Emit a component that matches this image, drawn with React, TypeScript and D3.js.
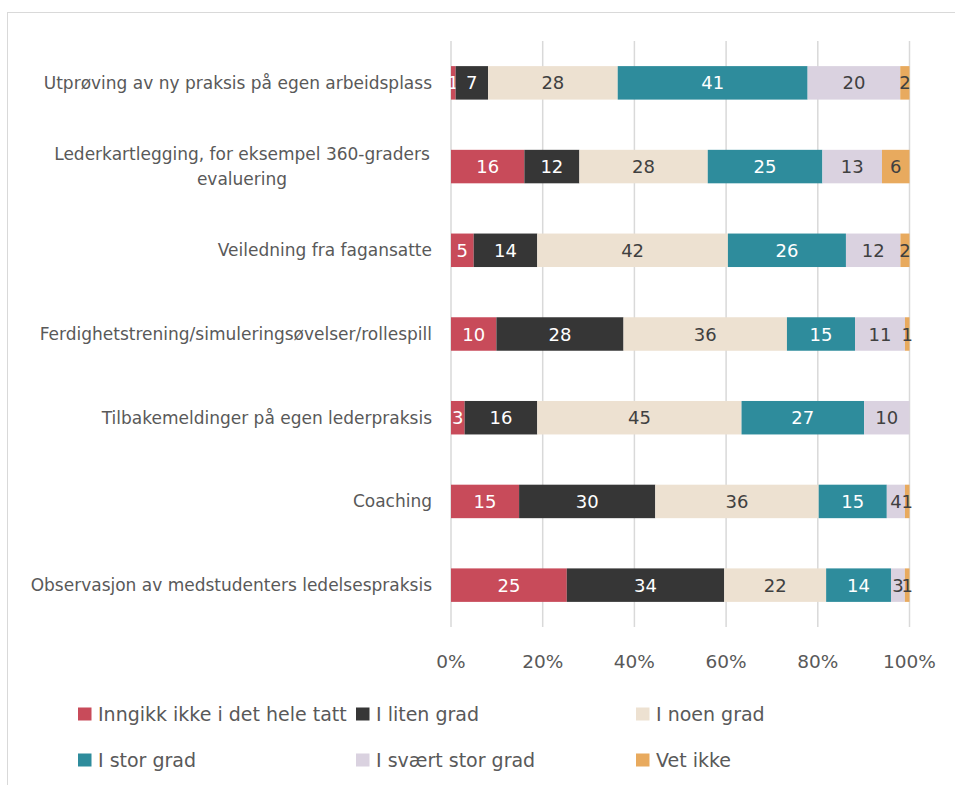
import React from "react";
import * as d3 from "d3";

const categories = [
  "Utprøving av ny praksis på egen arbeidsplass",
  "Lederkartlegging, for eksempel 360-graders|evaluering",
  "Veiledning fra fagansatte",
  "Ferdighetstrening/simuleringsøvelser/rollespill",
  "Tilbakemeldinger på egen lederpraksis",
  "Coaching",
  "Observasjon av medstudenters ledelsespraksis",
];
const seriesNames = [
  "Inngikk ikke i det hele tatt",
  "I liten grad",
  "I noen grad",
  "I stor grad",
  "I svært stor grad",
  "Vet ikke",
];
const inngikkIkke = [1, 16, 5, 10, 3, 15, 25];
const litenGrad = [7, 12, 14, 28, 16, 30, 34];
const noenGrad = [28, 28, 42, 36, 45, 36, 22];
const storGrad = [41, 25, 26, 15, 27, 15, 14];
const svaertStorGrad = [20, 13, 12, 11, 10, 4, 3];
const vetIkke = [2, 6, 2, 1, 0, 1, 1];
const tickValues = [0, 0.2, 0.4, 0.6, 0.8, 1];

const colors = ["#C84B5A", "#363636", "#EDE1D1", "#2E8C9C", "#DAD2E0", "#E8AA5E"];
const labelColors = ["#FFFFFF", "#FFFFFF", "#404040", "#FFFFFF", "#404040", "#404040"];

const FONT = "'DejaVu Sans', sans-serif";

export default function App() {
  const W = 955, H = 785;
  const x0 = 451, x1 = 909.5, yTop = 41, yBot = 627;
  const series = [inngikkIkke, litenGrad, noenGrad, storGrad, svaertStorGrad, vetIkke];
  const rows = categories.map((c, i) => {
    const vals = series.map((s) => s[i]);
    const total = d3.sum(vals);
    return { c, vals, total };
  });
  const x = d3.scaleLinear().domain([0, 1]).range([x0, x1]);
  const y = d3.scaleBand<number>().domain(d3.range(categories.length)).range([yTop, yBot]).paddingInner(0.6).paddingOuter(0.3);

  const legendPos = [
    [78, 714], [356, 714], [636, 714],
    [78, 760], [356, 760], [636, 760],
  ];

  return (
    <svg width={W} height={H} style={{ position: "absolute", left: 0, top: 0 }} fontFamily={FONT}>
      <rect x={0} y={0} width={W} height={H} fill="#fff" />
      <rect x={7.5} y={12.5} width={W + 20} height={H + 20} fill="none" stroke="#D9D9D9" strokeWidth={1} />
      {tickValues.map((t) => (
        <g key={t}>
          <line x1={x(t)} x2={x(t)} y1={yTop} y2={yBot} stroke="#D9D9D9" strokeWidth={1.5} />
          <text x={x(t)} y={667.5} textAnchor="middle" fontSize={18.5} fill="#595959">{d3.format(".0%")(t)}</text>
        </g>
      ))}
      {rows.map((r, i) => {
        let cum = 0;
        const by = y(i)!;
        const bh = y.bandwidth();
        const lines = r.c.split("|");
        return (
          <g key={i}>
            {r.vals.map((v, k) => {
              const start = cum / r.total;
              cum += v;
              const end = cum / r.total;
              if (v === 0) return null;
              return (
                <g key={k}>
                  <rect x={x(start)} y={by} width={x(end) - x(start)} height={bh} fill={colors[k]} />
                  <text x={(x(start) + x(end)) / 2} y={by + bh / 2 + 6.5} textAnchor="middle" fontSize={18} fill={labelColors[k]}>{v}</text>
                </g>
              );
            })}
            {lines.length > 1 ? (
              <text textAnchor="middle" fontSize={17} fill="#595959">
                {lines.map((l, j) => (
                  <tspan key={j} x={242} y={by + bh / 2 + 6 + (j - (lines.length - 1) / 2) * 25}>{l}</tspan>
                ))}
              </text>
            ) : (
              <text x={432} y={by + bh / 2 + 6} textAnchor="end" fontSize={17} fill="#595959">{r.c}</text>
            )}
          </g>
        );
      })}
      {seriesNames.map((n, k) => (
        <g key={n}>
          <rect x={legendPos[k][0]} y={legendPos[k][1] - 6.5} width={13.5} height={13} fill={colors[k]} />
          <text x={legendPos[k][0] + 20} y={legendPos[k][1] + 6.5} fontSize={19} fill="#595959">{n}</text>
        </g>
      ))}
    </svg>
  );
}
